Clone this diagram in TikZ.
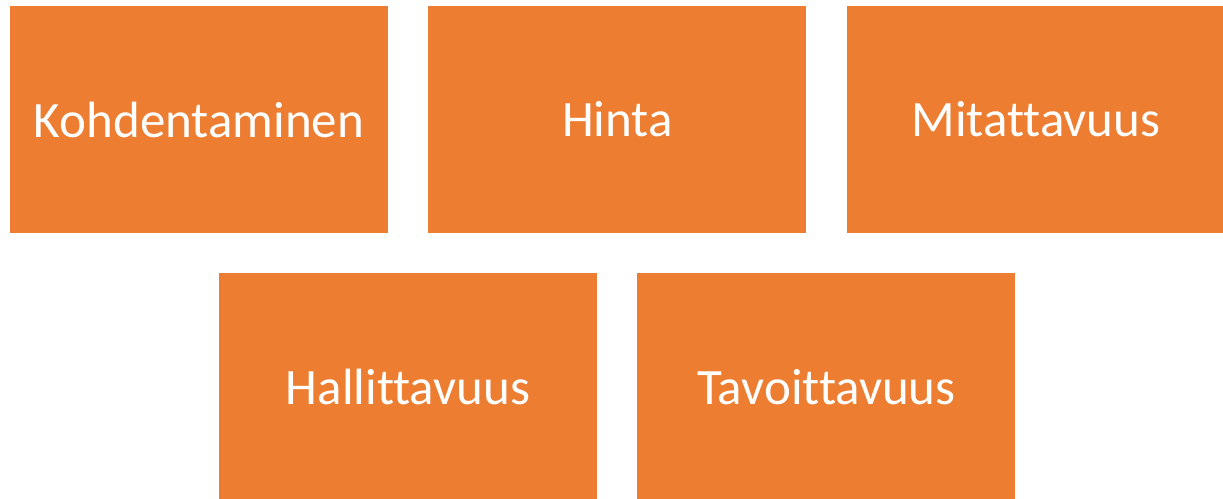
\documentclass[tikz,border=0pt]{standalone}
\usepackage{fontspec}
\setmainfont{Carlito}[Ligatures=NoCommon]
\usepackage{xcolor}
\usepackage{tikz}
\usetikzlibrary{positioning}

\definecolor{tileorange}{HTML}{ED7D31}

\begin{document}
\begin{tikzpicture}[
  x=1pt, y=1pt,
  node distance=40pt and 40pt,
  every node/.style={font=\fontsize{51}{61}\selectfont},
  tile/.style={fill=tileorange, text=white, rectangle, minimum width=378pt, minimum height=227pt, inner sep=0pt, align=center}
]
\useasboundingbox (0,0) rectangle (1223,-498);

\node[tile] (kohd) at (199,-119.5) {Kohdentaminen};
\node[tile, right=of kohd] (hinta) {Hinta};
\node[tile, right=of hinta] (mitat) {Mitattavuus};

\node[tile, below=of kohd, xshift=209pt] (hall) {Hallittavuus};
\node[tile, right=of hall] (tavo) {Tavoittavuus};
\end{tikzpicture}
\end{document}
